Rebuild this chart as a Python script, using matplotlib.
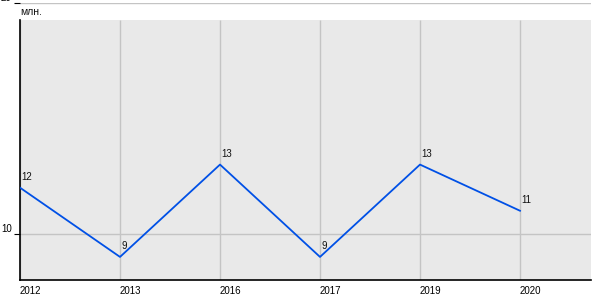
import matplotlib.pyplot as plt

plt.rcParams['font.family'] = ['Liberation Sans', 'DejaVu Sans']

years = ['2012', '2013', '2016', '2017', '2019', '2020']
values = [12, 9, 13, 9, 13, 11]
y_ticks = [10, 20]
unit = 'млн.'

fig = plt.figure(figsize=(6, 3), dpi=100)
ax = fig.add_axes([20 / 600, 20 / 300, 571 / 600, 277 / 300])
ax.set_xlim(0, 5.71)
ax.set_ylim(8, 20)
ax.set_facecolor('white')

gray_top = 19.26
ax.axhspan(8, gray_top, color='#e9e9e9', zorder=0, lw=0)
x = list(range(len(years)))
ax.vlines(x, 8, gray_top, color='#c4c4c4', lw=1, zorder=1)
for t in y_ticks:
    ax.axhline(t, color='#c4c4c4', lw=1, zorder=1)

ax.plot(x, values, color='#0050e6', lw=1.3, zorder=3)
for xi, v in zip(x, values):
    ax.text(xi + 0.01, v + 0.25, str(v), fontsize=7, ha='left', va='bottom', color='#111111', zorder=4)

for s in ['top', 'right']:
    ax.spines[s].set_visible(False)
ax.spines['left'].set_bounds(8, gray_top)
ax.spines['left'].set_linewidth(1.2)
ax.spines['bottom'].set_linewidth(1.2)

ax.set_xticks(x)
ax.set_xticklabels(years, fontsize=7, ha='left')
ax.tick_params(axis='x', length=0, pad=4)
ax.set_yticks(y_ticks)
ax.set_yticklabels([str(t) for t in y_ticks], fontsize=7)
ax.tick_params(axis='y', length=4, pad=2)
for lbl in ax.get_yticklabels():
    lbl.set_verticalalignment('bottom')

ax.text(0, 19.63, unit, fontsize=7.5, ha='left', va='center', color='#111111')

fig.savefig('out.png', dpi=100)
